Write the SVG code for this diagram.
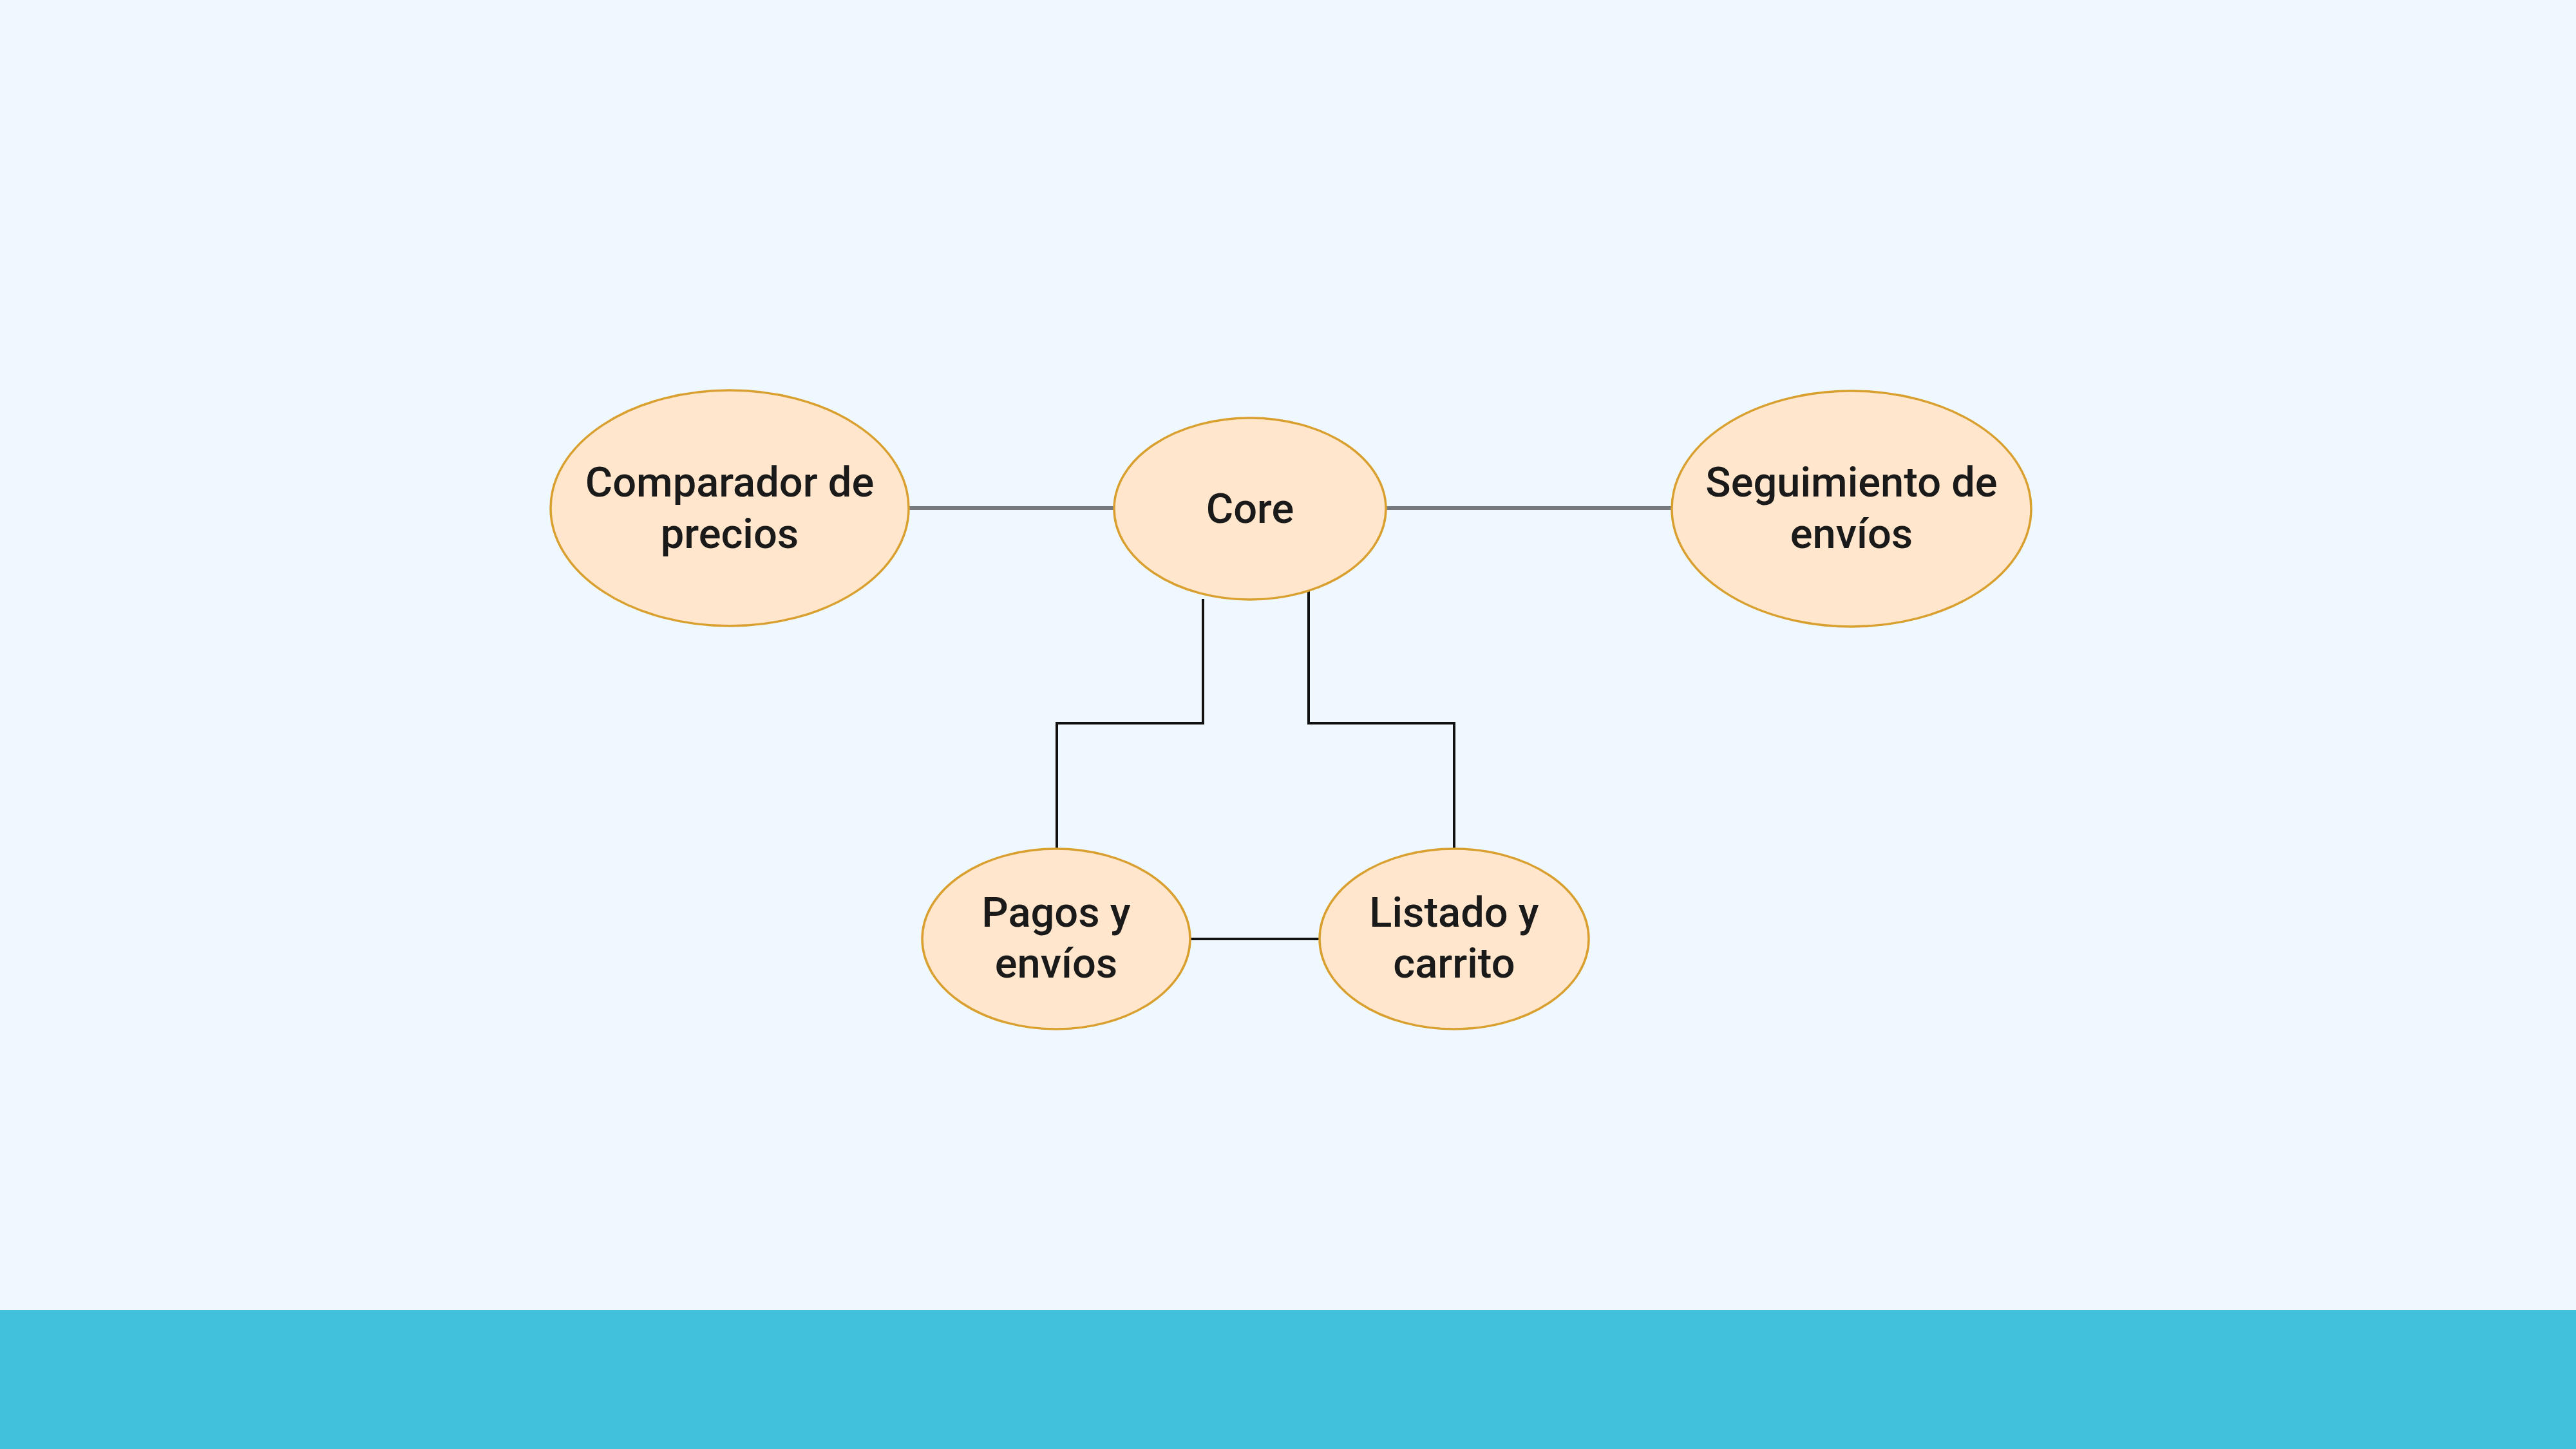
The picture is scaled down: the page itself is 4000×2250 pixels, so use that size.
<svg xmlns="http://www.w3.org/2000/svg" width="4000" height="2250" viewBox="0 0 4000 2250">
<style>
.node ellipse{fill:#FFE6CC;stroke:#D9A030;stroke-width:3.5}
.node text{font-family:Roboto,"Liberation Sans",sans-serif;font-size:65px;font-weight:500;fill:#1a1a1a;text-anchor:middle}
.gray{stroke:#767a7e;stroke-width:6;fill:none}
.blk{stroke:#111;stroke-width:4;fill:none}
</style>
<rect x="0" y="0" width="4000" height="2250" fill="#F0F8FF"/>
<rect x="0" y="2034" width="4000" height="216" fill="#42C1DD"/>
<g id="connectors">
<line class="gray" x1="1410" y1="789" x2="1731" y2="789"/>
<line class="gray" x1="2152" y1="789" x2="2596" y2="789"/>
<polyline class="blk" points="1868,930 1868,1123 1641,1123 1641,1318"/>
<polyline class="blk" points="2032,916 2032,1123 2258,1123 2258,1318"/>
<line class="blk" x1="1849" y1="1458" x2="2049" y2="1458"/>
</g>
<g id="comparador" class="node">
<ellipse cx="1133" cy="789" rx="278" ry="183"/>
<text x="1133" y="771">Comparador de</text>
<text x="1133" y="851">precios</text>
</g>
<g id="core" class="node">
<ellipse cx="1941" cy="790" rx="211" ry="141"/>
<text x="1941" y="812">Core</text>
</g>
<g id="seguimiento" class="node">
<ellipse cx="2875" cy="790" rx="279" ry="183"/>
<text x="2875" y="771">Seguimiento de</text>
<text x="2875" y="851">envíos</text>
</g>
<g id="pagos" class="node">
<ellipse cx="1640" cy="1458" rx="208" ry="140"/>
<text x="1640" y="1439">Pagos y</text>
<text x="1640" y="1518">envíos</text>
</g>
<g id="listado" class="node">
<ellipse cx="2258" cy="1458" rx="209" ry="140"/>
<text x="2258" y="1439">Listado y</text>
<text x="2258" y="1518">carrito</text>
</g>
</svg>
